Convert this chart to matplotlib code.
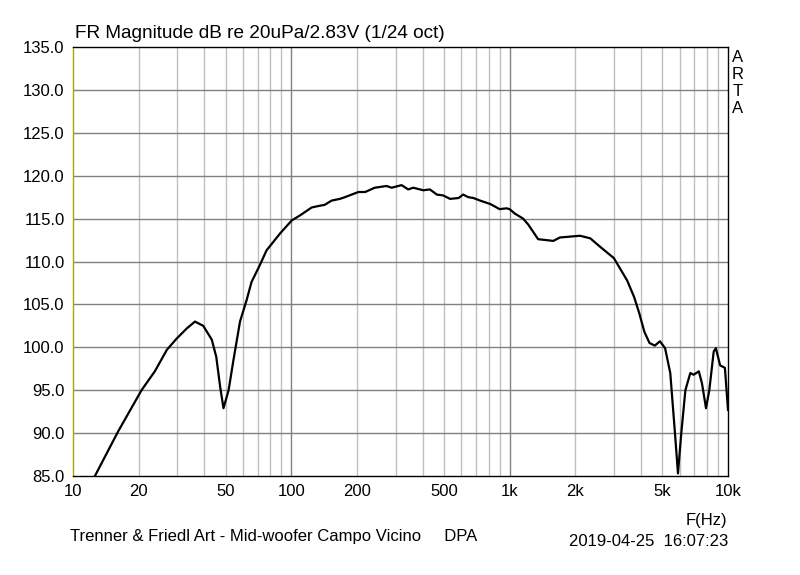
import matplotlib.pyplot as plt
import numpy as np

plt.rcParams['font.family'] = ['Liberation Sans', 'DejaVu Sans']

# frequency response (Hz, dB)
freq = [12.6, 16.1, 20.6, 23.7, 26.9, 29.8, 33.2, 36.2, 39.5, 43.2, 45.3,
        47.2, 48.9, 51.6, 54.3, 58.2, 62.4, 65.7, 71.8, 77, 89, 100.6, 110,
        124, 135, 142, 153, 167, 176, 189, 203, 218, 241, 273, 288, 320, 343,
        362, 402, 431, 464, 496, 533, 584, 612, 646, 682, 732, 815, 900, 967,
        1000, 1054, 1152, 1217, 1350, 1585, 1700, 2100, 2340, 2600, 3000,
        3450, 3710, 3920, 4140, 4370, 4620, 4880, 5150, 5440, 5700, 5900,
        6110, 6380, 6720, 6960, 7350, 7600, 7930, 8210, 8600, 8800, 9200,
        9680, 10000]
mag = [85.0, 90.2, 95.0, 97.2, 99.7, 101.0, 102.2, 103.0, 102.5, 100.9, 98.9,
       95.4, 92.9, 95.0, 98.5, 103.0, 105.5, 107.6, 109.6, 111.3, 113.3, 114.8,
       115.4, 116.3, 116.5, 116.6, 117.1, 117.3, 117.5, 117.8, 118.1, 118.1,
       118.6, 118.8, 118.6, 118.9, 118.4, 118.6, 118.3, 118.4, 117.8, 117.7,
       117.3, 117.4, 117.8, 117.5, 117.4, 117.1, 116.7, 116.1, 116.2, 116.1,
       115.6, 115.0, 114.3, 112.6, 112.4, 112.8, 113.0, 112.7, 111.7, 110.4,
       107.8, 105.9, 104.0, 101.8, 100.5, 100.2, 100.7, 99.9, 97.0, 90.4,
       85.3, 90.0, 95.0, 97.0, 96.8, 97.2, 95.8, 92.9, 95.0, 99.5, 99.9, 97.9,
       97.6, 92.7]

xticks = [10, 20, 50, 100, 200, 500, 1000, 2000, 5000, 10000]
xlabels = ['10', '20', '50', '100', '200', '500', '1k', '2k', '5k', '10k']
yticks = [85, 90, 95, 100, 105, 110, 115, 120, 125, 130, 135]

fig = plt.figure(figsize=(8, 5.75), dpi=100)
ax = fig.add_axes([73 / 800, 99 / 575, 655 / 800, 429 / 575])
ax.set_xscale('log')
ax.set_xlim(10, 10000)
ax.set_ylim(85, 135)

# grid: light minor verticals, darker decades and horizontals
for dec in [10, 100, 1000]:
    for m in range(2, 10):
        ax.axvline(dec * m, color='#c0c0c0', lw=1, zorder=1)
for dec in [100, 1000]:
    ax.axvline(dec, color='#808080', lw=1, zorder=1)
for y in yticks[1:-1]:
    ax.axhline(y, color='#808080', lw=1, zorder=1)

ax.plot(freq, mag, color='black', lw=1.6, zorder=3)

ax.set_xticks(xticks)
ax.set_xticklabels(xlabels)
ax.xaxis.set_minor_locator(plt.NullLocator())
ax.set_yticks(yticks)
ax.set_yticklabels([f'{v:.1f}' for v in yticks])
ax.tick_params(length=0, labelsize=12, pad=6)
for s in ax.spines.values():
    s.set_color('black')
    s.set_linewidth(1)
ax.spines['left'].set_color('#a8a800')

fig.text(75 / 800, 1 - 33 / 575, 'FR Magnitude dB re 20uPa/2.83V (1/24 oct)',
         fontsize=13.7, va='center', ha='left')
fig.text(738 / 800, 1 - 83 / 575, 'A\nR\nT\nA', fontsize=12, ha='center',
         va='center', linespacing=1.15)
fig.text(706 / 800, 1 - 520 / 575, 'F(Hz)', fontsize=12, ha='center', va='center')
fig.text(70 / 800, 1 - 536 / 575,
         'Trenner & Friedl Art - Mid-woofer Campo Vicino     DPA',
         fontsize=12, ha='left', va='center')
fig.text(728 / 800, 1 - 542 / 575, '2019-04-25  16:07:23', fontsize=12,
         ha='right', va='center')

fig.savefig('out.png', dpi=100)
